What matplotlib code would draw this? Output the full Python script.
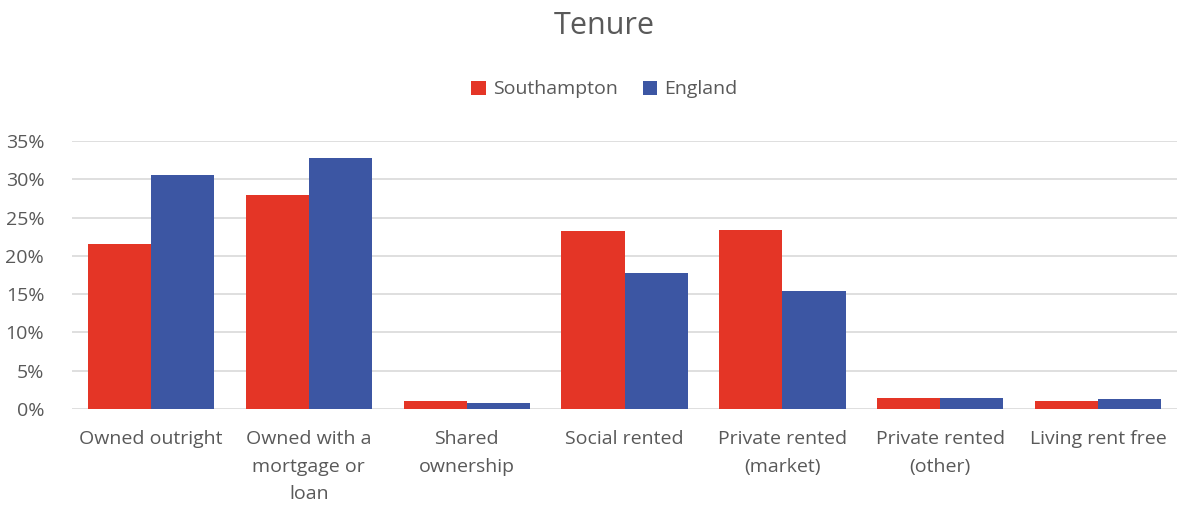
import numpy as np
import matplotlib.pyplot as plt
from matplotlib.ticker import PercentFormatter

categories = [
    "Owned outright",
    "Owned with a\nmortgage or\nloan",
    "Shared\nownership",
    "Social rented",
    "Private rented\n(market)",
    "Private rented\n(other)",
    "Living rent free",
]
southampton = [21.6, 28.0, 1.0, 23.2, 23.4, 1.4, 1.0]
england = [30.6, 32.8, 0.8, 17.7, 15.4, 1.4, 1.3]
y_ticks = [0, 5, 10, 15, 20, 25, 30, 35]

RED = "#E43526"
BLUE = "#3C56A3"
GREY = "#595959"

plt.rcParams["font.family"] = ["Open Sans", "DejaVu Sans"]

fig = plt.figure(figsize=(11.78, 5.11), dpi=100)
ax = fig.add_axes([72 / 1178, 1 - 409 / 511, 1105 / 1178, 268 / 511])

x = np.arange(len(categories))
w = 0.4
ax.bar(x - w / 2, southampton, w, color=RED, label="Southampton", zorder=3)
ax.bar(x + w / 2, england, w, color=BLUE, label="England", zorder=3)

ax.set_xlim(-0.5, len(categories) - 0.5)
ax.set_ylim(0, 35)
ax.set_yticks(y_ticks)
ax.yaxis.set_major_formatter(PercentFormatter(decimals=0))
ax.grid(axis="y", color="#D9D9D9", linewidth=1.2, zorder=0)
for s in ax.spines.values():
    s.set_visible(False)
ax.tick_params(axis="both", length=0, colors=GREY, labelsize=14)
ax.tick_params(axis="y", pad=20)
ax.tick_params(axis="x", pad=15)
ax.set_xticks(x)
ax.set_xticklabels(categories, linespacing=1.7)

fig.text(0.513, 0.95, "Tenure", ha="center", va="center", fontsize=22, color=GREY)
fig.legend(loc="center", bbox_to_anchor=(0.513, 0.825), ncol=2, frameon=False,
           fontsize=14, labelcolor=GREY, handlelength=0.75, handleheight=0.75,
           handletextpad=0.35, columnspacing=1.3)

fig.savefig("out.png", dpi=100)
